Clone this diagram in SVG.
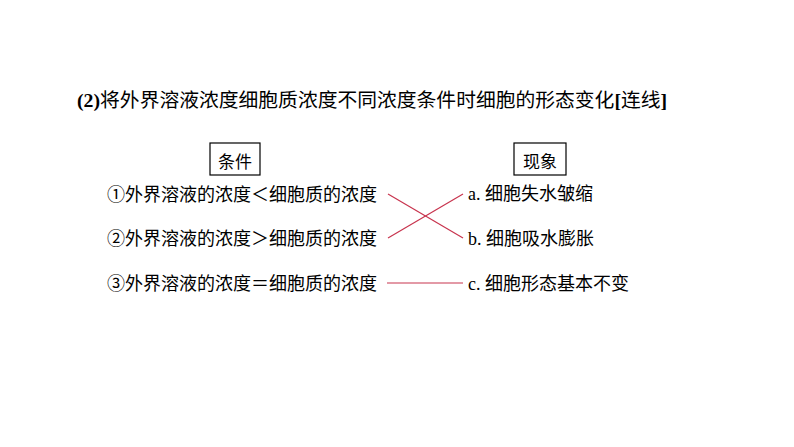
<svg xmlns="http://www.w3.org/2000/svg" width="794" height="447" viewBox="0 0 794 447">
<style>
text{font-family:"Liberation Serif","Noto Sans CJK SC",serif;fill:#000;}
.t{font-size:19.8px;}
.b{font-weight:bold;}
.r{font-size:18px;}
.n{font-family:"Noto Sans CJK SC",sans-serif;}
.h{font-size:17px;text-anchor:middle;}
.box{fill:#fff;stroke:#000;stroke-width:1.2;}
.ln{stroke:#c8344e;stroke-width:1.2;fill:none;}
</style>
<rect width="794" height="447" fill="#fff"/>
<g id="title">
<text class="t" x="77" y="107"><tspan class="b">(2)</tspan>将外界溶液浓度细胞质浓度不同浓度条件时细胞的形态变化<tspan class="b">[</tspan>连线<tspan class="b">]</tspan></text>
</g>
<g id="head-conditions">
<rect class="box" x="210" y="143" width="50" height="32"/>
<text class="h" x="235" y="168">条件</text>
</g>
<g id="head-phenomena">
<rect class="box" x="514" y="143" width="52" height="32"/>
<text class="h" x="540" y="168">现象</text>
</g>
<g id="c1"><text class="r" x="107" y="201"><tspan class="n">①</tspan>外界溶液的浓度＜细胞质的浓度</text></g>
<g id="c2"><text class="r" x="107" y="245"><tspan class="n">②</tspan>外界溶液的浓度＞细胞质的浓度</text></g>
<g id="c3"><text class="r" x="107" y="290"><tspan class="n">③</tspan>外界溶液的浓度＝细胞质的浓度</text></g>
<g id="pa"><text class="r" x="468" y="200">a. 细胞失水皱缩</text></g>
<g id="pb"><text class="r" x="468" y="245">b. 细胞吸水膨胀</text></g>
<g id="pc"><text class="r" x="468" y="290">c. 细胞形态基本不变</text></g>
<g id="connectors">
<line class="ln" x1="388" y1="194" x2="463" y2="238"/>
<line class="ln" x1="388" y1="238" x2="463" y2="194"/>
<line class="ln" x1="387" y1="283" x2="463" y2="283" stroke="#b0283a"/>
</g>
</svg>
